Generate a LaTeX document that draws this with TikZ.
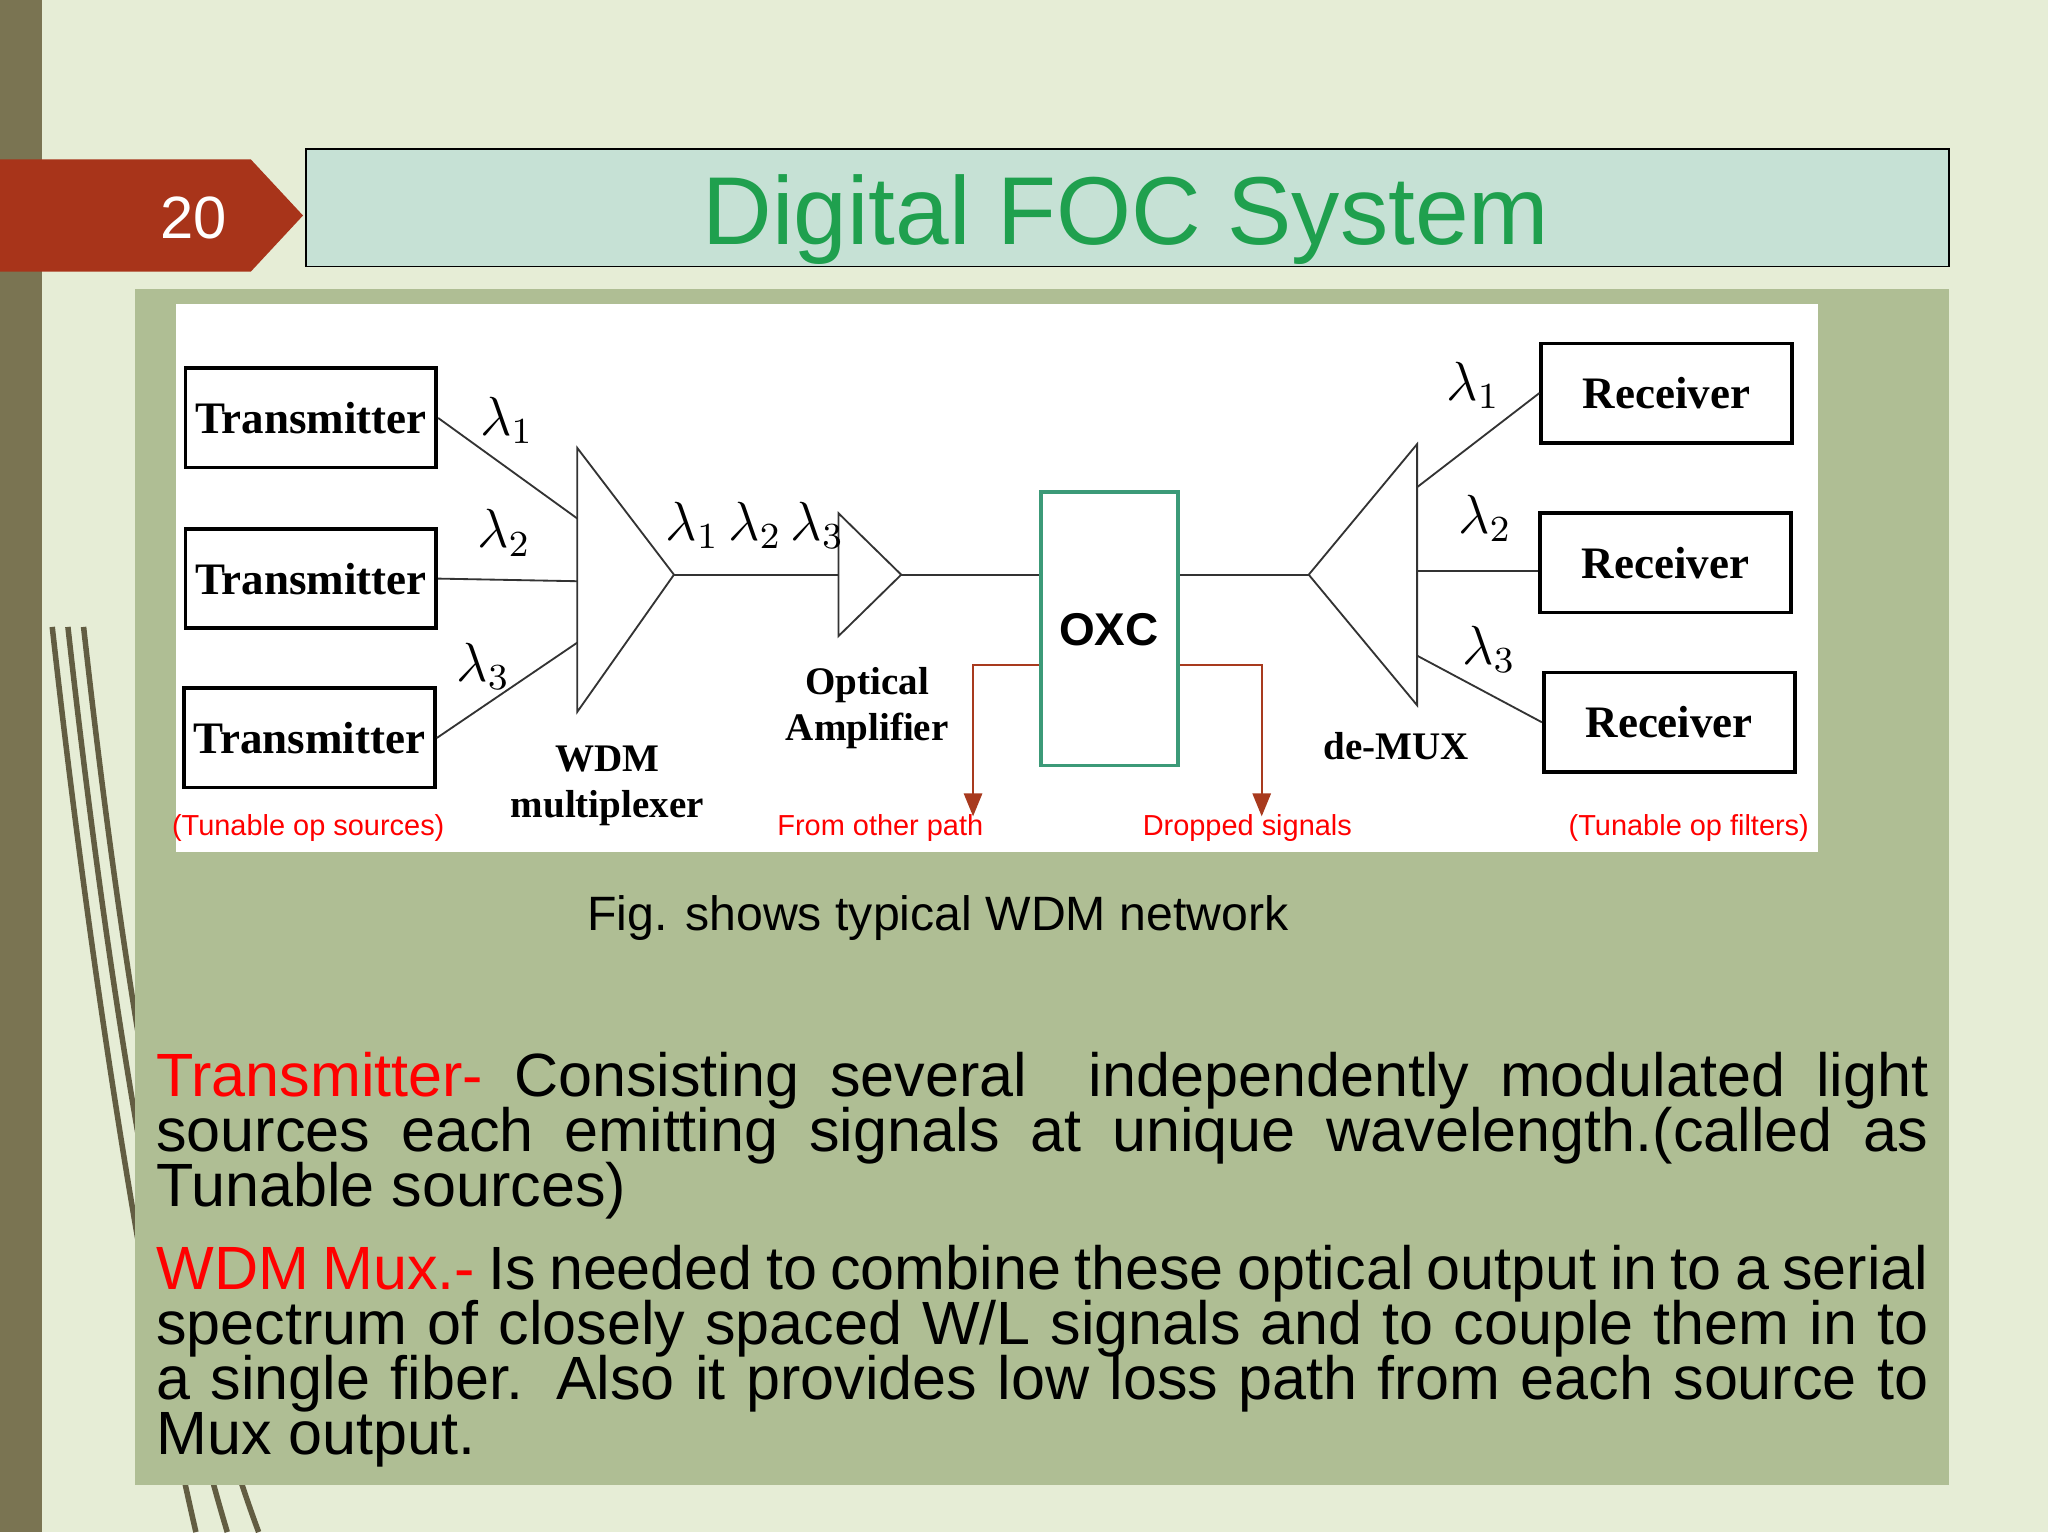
\documentclass[tikz,border=0pt]{standalone}
\usepackage{fontspec}
\setmainfont{Liberation Sans}
\newfontfamily\diagserif{Liberation Serif}
\usetikzlibrary{positioning,arrows.meta}
\definecolor{slidebg}{HTML}{E6EDD6}
\definecolor{strip}{HTML}{7A7452}
\definecolor{badge}{HTML}{A8341A}
\definecolor{titlebox}{HTML}{C6E1D5}
\definecolor{titlegreen}{HTML}{1FA04E}
\definecolor{panel}{HTML}{AFBE94}
\definecolor{oxcgreen}{HTML}{3C9A78}
\definecolor{pathred}{HTML}{A83A1E}
\tikzset{
  blk/.style={draw=black,thick,inner sep=0pt,minimum width=1.92cm,minimum height=0.76cm,font=\diagserif\bfseries\fontsize{9.8}{11}\selectfont},
  lam/.style={font=\diagserif\fontsize{12}{12}\selectfont},
  unitlbl/.style={font=\diagserif\bfseries\fontsize{8.5}{10}\selectfont,align=center},
  redlbl/.style={text=red,font=\fontsize{6.3}{7}\selectfont},
  wire/.style={draw=black!80},
  redpath/.style={draw=pathred,-{Triangle[length=5pt,width=4pt]}}
}
\begin{document}
\begin{tikzpicture}[x=0.01cm,y=-0.01cm]
  \useasboundingbox (0,0) rectangle (1568,1173);
  \fill[slidebg] (0,0) rectangle (1568,1173);
  \fill[strip] (0,0) rectangle (32,1173);
  % decorative strokes
  \foreach \s in {0,12,24} {\draw[strip!80!black,line width=1.2pt] (40+\s,480) .. controls (70+\s,750) and (110+\s,1000) .. (150+\s*2,1173);}
  % badge and title
  \fill[badge] (0,122) -- (192,122) -- (232,165) -- (192,208) -- (0,208) -- cycle;
  \node[text=white,font=\fontsize{13}{13}\selectfont] (num) at (148,167) {20};
  \draw[fill=titlebox,draw=black] (234,114) rectangle (1492,204);
  \node[text=titlegreen,font=\fontsize{21}{21}\selectfont] (title) at (862,168) {Digital FOC System};
  % panel and figure area
  \fill[panel] (103,221) rectangle (1492,1137);
  \fill[white] (135,233) rectangle (1392,652);
  % transmitters and receivers
  \node[blk] (tx1) at (238,320) {Transmitter};
  \node[blk] (tx2) at (238,443) {Transmitter};
  \node[blk] (tx3) at (237,565) {Transmitter};
  \node[blk] (rx1) at (1276,301) {Receiver};
  \node[blk] (rx2) at (1275,431) {Receiver};
  \node[blk] (rx3) at (1278,553) {Receiver};
  % mux, amplifier, demux
  \draw[wire] (442,343) -- (516,440) -- (442,545) -- cycle;
  \coordinate (muxa) at (442,397); \coordinate (muxb) at (442,445); \coordinate (muxc) at (442,492);
  \coordinate (muxout) at (516,440);
  \draw[wire] (642,393) -- (690,440) -- (642,487) -- cycle;
  \coordinate (ampin) at (642,440); \coordinate (ampout) at (690,440);
  \draw[wire] (1085,340) -- (1002,440) -- (1085,540) -- cycle;
  \coordinate (dmxin) at (1002,440);
  \coordinate (dmxa) at (1085,373); \coordinate (dmxb) at (1085,437); \coordinate (dmxc) at (1085,502);
  \node[draw=oxcgreen,thick,minimum width=1.05cm,minimum height=2.09cm,inner sep=0pt] (oxc) at (849.5,481.5) {};
  \node[font=\bfseries\fontsize{10}{10}\selectfont] (oxclbl) at (849,482) {OXC};
  % wires
  \draw[wire] (tx1.east) -- (muxa);
  \draw[wire] (tx2.east) -- (muxb);
  \draw[wire] (tx3.east) -- (muxc);
  \draw[wire] (muxout) -- (ampin);
  \draw[wire] (ampout) -- (oxc.west |- ampout);
  \draw[wire] (oxc.east |- dmxin) -- (dmxin);
  \draw[wire] (dmxa) -- (rx1.west);
  \draw[wire] (dmxb) -- (rx2.west |- dmxb);
  \draw[wire] (dmxc) -- (rx3.west);
  % add/drop paths
  \coordinate (addend) at (745,625); \coordinate (dropend) at (966,625);
  \draw[redpath] (oxc.west |- 0,509) -| (addend);
  \draw[redpath] (oxc.east |- 0,509) -| (dropend);
  % wavelength labels
  \node[lam] (l1) at (388,322) {$\lambda_1$};
  \node[lam] (l2) at (386,408) {$\lambda_2$};
  \node[lam] (l3) at (370,510) {$\lambda_3$};
  \node[lam] (lall) at (578,402) {$\lambda_1\,\lambda_2\,\lambda_3$};
  \node[lam] (r1) at (1128,295) {$\lambda_1$};
  \node[lam] (r2) at (1137,397) {$\lambda_2$};
  \node[lam] (r3) at (1140,497) {$\lambda_3$};
  % captions
  \node[unitlbl] (muxlbl) at (465,602) {WDM\\multiplexer};
  \node[unitlbl] (amplbl) at (664,542) {Optical\\Amplifier};
  \node[unitlbl] (dmxlbl) at (1069,571) {de-MUX};
  \node[redlbl] (srclbl) at (236,634) {(Tunable op sources)};
  \node[redlbl] (addlbl) at (674,634) {From other path};
  \node[redlbl] (droplbl) at (955,634) {Dropped signals};
  \node[redlbl] (fltlbl) at (1293,634) {(Tunable op filters)};
  \node[font=\fontsize{10.5}{10.5}\selectfont] (fig) at (718,703) {Fig. shows typical WDM network};
  % body text
  \node[anchor=north west,inner sep=0pt,text width=13.56cm,align=justify,font=\fontsize{13.3}{12}\selectfont] (body) at (119,805)
  {\lineskiplimit=-20pt\hyphenpenalty=10000
  \textcolor{red}{Transmitter-} Consisting several \ independently modulated light sources each emitting signals at unique wavelength.(called as Tunable sources)\par\vspace{6pt}
  \textcolor{red}{WDM Mux.-} Is needed to combine these optical output in to a serial spectrum of closely spaced W/L signals and to couple them in to a single fiber. Also it provides low loss path from each source to Mux output.\par};
\end{tikzpicture}
\end{document}
